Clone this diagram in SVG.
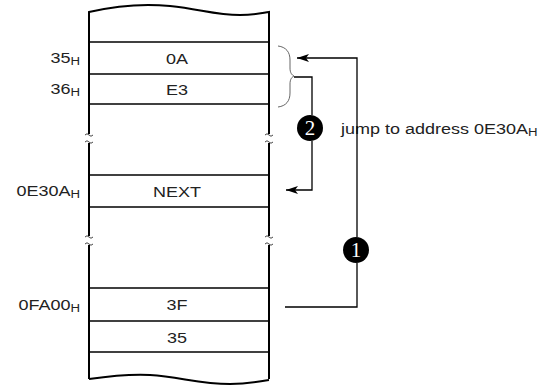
<svg xmlns="http://www.w3.org/2000/svg" width="558" height="385" viewBox="0 0 558 385">
<style>
.t{font-family:"Liberation Sans",Arial,sans-serif;font-size:15px;fill:#222}
.s{font-size:11px}
.ln{stroke:#000;stroke-width:1.3;fill:none}
.bd{stroke:#000;stroke-width:2;fill:none}
.br{stroke:#555;stroke-width:0.9;fill:none}
.tl{stroke:#444;stroke-width:1;fill:none}
.num{font-family:"Liberation Serif","Times New Roman",serif;font-size:21px;fill:#fff}
</style>
<defs>
<marker id="ah" markerWidth="12" markerHeight="8" refX="12" refY="4" orient="auto" markerUnits="userSpaceOnUse">
<path d="M0,0 L12,4 L0,8 L3,4 Z" fill="#000"/>
</marker>
</defs>
<g id="memory">
<path class="bd" d="M89,20 V12 C115,6 140,3 170,6 C200,9 215,15 240,15 C255,15 262,13 269,12 V20"/>
<path class="bd" d="M89,12 V134 M89,143 V236 M89,245 V379"/>
<path class="bd" d="M269,12 V134 M269,143 V236 M269,245 V379"/>
<path class="bd" d="M89,379 C110,376 130,374 150,375 C180,377 200,384 230,384 C250,384 260,381 269,380"/>
<path class="tl" d="M85,135 q2,-2.5 4,0 t4,0 M85,142 q2,-2.5 4,0 t4,0 M85,237 q2,-2.5 4,0 t4,0 M85,244 q2,-2.5 4,0 t4,0"/>
<path class="tl" d="M265,135 q2,-2.5 4,0 t4,0 M265,142 q2,-2.5 4,0 t4,0 M265,237 q2,-2.5 4,0 t4,0 M265,244 q2,-2.5 4,0 t4,0"/>
</g>
<g id="cell-35" >
<line class="ln" x1="89" y1="42" x2="269" y2="42"/>
<line class="ln" x1="89" y1="74" x2="269" y2="74"/>
<text class="t" transform="translate(177,64) scale(1.2,1)" text-anchor="middle">0A</text>
<text class="t" transform="translate(80,63) scale(1.2,1)" text-anchor="end">35<tspan class="s" dy="2">H</tspan></text>
</g>
<g id="cell-36">
<line class="ln" x1="89" y1="104" x2="269" y2="104"/>
<text class="t" transform="translate(177,95) scale(1.2,1)" text-anchor="middle">E3</text>
<text class="t" transform="translate(80,94) scale(1.2,1)" text-anchor="end">36<tspan class="s" dy="2">H</tspan></text>
</g>
<g id="cell-0E30A">
<line class="ln" x1="89" y1="175" x2="269" y2="175"/>
<line class="ln" x1="89" y1="207" x2="269" y2="207"/>
<text class="t" transform="translate(177,197) scale(1.2,1)" text-anchor="middle">NEXT</text>
<text class="t" transform="translate(80,196) scale(1.2,1)" text-anchor="end">0E30A<tspan class="s" dy="2">H</tspan></text>
</g>
<g id="cell-0FA00">
<line class="ln" x1="89" y1="288" x2="269" y2="288"/>
<line class="ln" x1="89" y1="321" x2="269" y2="321"/>
<line class="ln" x1="89" y1="352" x2="269" y2="352"/>
<text class="t" transform="translate(177,310) scale(1.2,1)" text-anchor="middle">3F</text>
<text class="t" transform="translate(177,343) scale(1.2,1)" text-anchor="middle">35</text>
<text class="t" transform="translate(80,310) scale(1.2,1)" text-anchor="end">0FA00<tspan class="s" dy="2">H</tspan></text>
</g>
<g id="brace">
<path class="br" d="M278,46 C286,47 290,52 290,60 V68 C290,73 292,75 294,76 C292,77 290,79 290,84 V93 C290,101 286,106 278,107"/>
</g>
<g id="step1">
<circle cx="356" cy="250" r="13" fill="#000"/>
<text class="num" x="356" y="257" text-anchor="middle">1</text>
</g>
<g id="step2">
<circle cx="310" cy="128" r="13" fill="#000"/>
<text class="num" x="310" y="135" text-anchor="middle">2</text>
</g>
<g id="label">
<text class="t" transform="translate(341,134) scale(1.2,1)">jump to address 0E30A<tspan class="s" dy="2">H</tspan></text>
</g>
<g id="connectors">
<path class="ln" d="M285,307 H357 V263 M357,237 V58 H297" marker-end="url(#ah)"/>
<path class="ln" d="M294,77 H312 V115 M312,141 V190 H286" marker-end="url(#ah)"/>
</g>
</svg>
